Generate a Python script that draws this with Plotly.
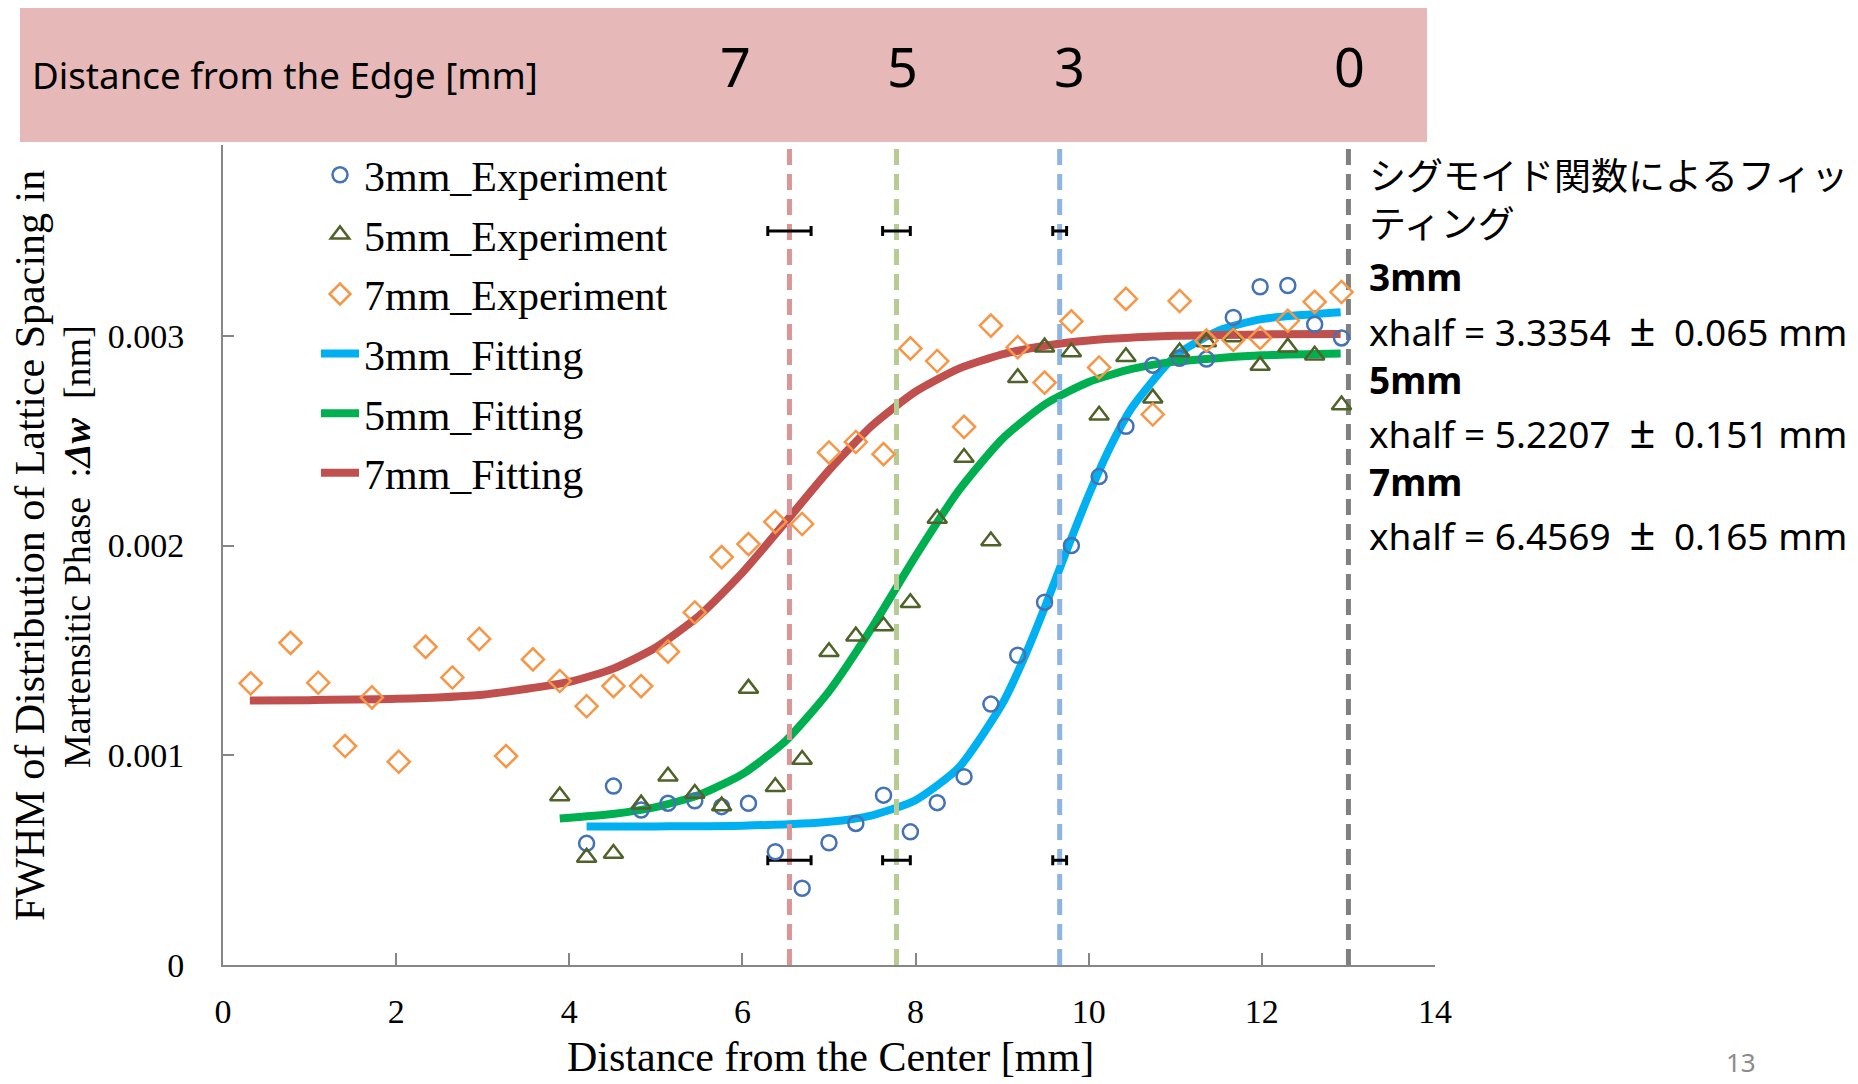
import plotly.graph_objects as go

# ---------------- data ----------------
# measurement positions (distance from the center, mm)
x_7mm = [0.32, 0.78, 1.10, 1.41, 1.72, 2.03, 2.34, 2.65, 2.96, 3.27, 3.58, 3.89, 4.20, 4.51,
         4.83, 5.14, 5.45, 5.76, 6.07, 6.38, 6.69, 7.00, 7.31, 7.63, 7.94, 8.25, 8.56, 8.87,
         9.18, 9.49, 9.80, 10.12, 10.43, 10.74, 11.05, 11.36, 11.67, 11.98, 12.30, 12.61, 12.92]
y_7mm = [0.001343, 0.001536, 0.001346, 0.001044, 0.001276, 0.000969, 0.001517, 0.001371,
         0.001555, 0.000996, 0.001457, 0.001354, 0.001234, 0.001330, 0.001330, 0.001494,
         0.001681, 0.001945, 0.002007, 0.002113, 0.002103, 0.002444, 0.002494, 0.002436,
         0.002940, 0.002880, 0.002566, 0.003049, 0.002946, 0.002777, 0.003069, 0.002849,
         0.003176, 0.002625, 0.003166, 0.002977, 0.002981, 0.002990, 0.003072, 0.003162,
         0.003209]

x_5mm = [3.89, 4.20, 4.51, 4.83, 5.14, 5.45, 5.76, 6.07, 6.38, 6.69, 7.00, 7.31, 7.63, 7.94,
         8.25, 8.56, 8.87, 9.18, 9.49, 9.80, 10.12, 10.43, 10.74, 11.05, 11.36, 11.67, 11.98,
         12.30, 12.61, 12.92]
y_5mm = [0.000806, 0.000513, 0.000532, 0.000767, 0.000900, 0.000818, 0.000758, 0.001319,
         0.000850, 0.000980, 0.001494, 0.001568, 0.001616, 0.001727, 0.002129, 0.002420,
         0.002022, 0.002800, 0.002946, 0.002923, 0.002621, 0.002900, 0.002703, 0.002923,
         0.002971, 0.002995, 0.002858, 0.002946, 0.002907, 0.002670]

x_3mm = [4.20, 4.51, 4.83, 5.14, 5.45, 5.76, 6.07, 6.38, 6.69, 7.00, 7.31, 7.63, 7.94, 8.25,
         8.56, 8.87, 9.18, 9.49, 9.80, 10.12, 10.43, 10.74, 11.05, 11.36, 11.67, 11.98, 12.30,
         12.61, 12.92]
y_3mm = [0.000580, 0.000853, 0.000739, 0.000771, 0.000783, 0.000755, 0.000771, 0.000540,
         0.000366, 0.000583, 0.000675, 0.000810, 0.000635, 0.000774, 0.000898, 0.001244,
         0.001477, 0.001730, 0.002000, 0.002329, 0.002569, 0.002860, 0.002893, 0.002889,
         0.003088, 0.003234, 0.003240, 0.003055, 0.002990]

# sigmoid fitting curves, sampled
fit_x_7mm = [0.31, 1.0, 2.0, 3.0, 4.0, 4.5, 5.0, 5.5, 6.0, 6.5, 7.0, 7.5, 8.0, 8.5, 9.0, 9.5,
             10.0, 11.0, 12.0, 12.91]
fit_y_7mm = [0.001261, 0.001263, 0.001269, 0.001289, 0.001350, 0.001412, 0.001514, 0.001665,
             0.001871, 0.002113, 0.002359, 0.002573, 0.002734, 0.002844, 0.002912, 0.002953,
             0.002978, 0.003000, 0.003007, 0.003009]

fit_x_5mm = [3.89, 4.5, 5.0, 5.5, 6.0, 6.5, 7.0, 7.5, 8.0, 8.5, 9.0, 9.5, 10.0, 10.5, 11.0,
             12.0, 12.91]
fit_y_5mm = [0.000699, 0.000720, 0.000753, 0.000811, 0.000910, 0.001069, 0.001305, 0.001611,
             0.001950, 0.002263, 0.002508, 0.002675, 0.002780, 0.002842, 0.002877, 0.002907,
             0.002916]

fit_x_3mm = [4.2, 5.0, 6.0, 7.0, 7.5, 8.0, 8.5, 9.0, 9.25, 9.5, 9.75, 10.0, 10.25, 10.5, 11.0,
             11.5, 12.0, 12.91]
fit_y_3mm = [0.000660, 0.000661, 0.000664, 0.000683, 0.000714, 0.000786, 0.000942, 0.001244,
             0.001461, 0.001713, 0.001982, 0.002241, 0.002471, 0.002658, 0.002904, 0.003025,
             0.003080, 0.003112]

# fitted half-transition positions (from the edge) and the edge position
widths = ["3mm", "5mm", "7mm"]
xhalf = [3.3354, 5.2207, 6.4569]
xhalf_err = [0.065, 0.151, 0.165]
edge_x = 13.0
bar_halfwidth = [0.08, 0.16, 0.25]
bar_levels = [0.0035, 0.0005]

edge_labels = ["7", "5", "3", "0"]

# ---------------- layout helpers ----------------
W, H = 1858, 1084
PL, PR, PT, PB = 223, 1435, 145, 965
Y_MAX = 0.00391


def fx(px):
    return (px - PL) / (PR - PL)


def fy(py):
    return (PB - py) / (PB - PT)


SERIF = "Liberation Serif, Times New Roman, serif"
SANS = "Noto Sans, Noto Sans CJK JP, sans-serif"

fig = go.Figure()

# fitting curves
fit_colors = {"3mm": "#00B0F0", "5mm": "#00B050", "7mm": "#C0504D"}
fits = {"3mm": (fit_x_3mm, fit_y_3mm), "5mm": (fit_x_5mm, fit_y_5mm), "7mm": (fit_x_7mm, fit_y_7mm)}
for rank, w in enumerate(widths):
    fxs, fys = fits[w]
    fig.add_trace(go.Scatter(
        x=fxs, y=fys, mode="lines", name=f"{w}_Fitting",
        line=dict(color=fit_colors[w], width=8, shape="spline", smoothing=0.6),
        legendgroup=f"fit{w}", legendrank=10 + rank))

# vertical dashed guides at the fitted half positions and at the edge
guide_colors = ["#8DB4E2", "#B7CC93", "#DA9694"]
for i, w in enumerate(widths):
    xpos = edge_x - xhalf[i]
    fig.add_trace(go.Scatter(
        x=[xpos, xpos], y=[0, Y_MAX], mode="lines", showlegend=False, hoverinfo="skip",
        line=dict(color=guide_colors[i], width=5, dash="16px,9px")))
fig.add_trace(go.Scatter(
    x=[edge_x, edge_x], y=[0, Y_MAX], mode="lines", showlegend=False, hoverinfo="skip",
    line=dict(color="#808080", width=5, dash="16px,9px")))

# horizontal error bars on the half positions
for i, w in enumerate(widths):
    xpos = edge_x - xhalf[i]
    fig.add_trace(go.Scatter(
        x=[xpos] * len(bar_levels), y=bar_levels, mode="markers", showlegend=False,
        hoverinfo="skip", marker=dict(size=1, color="rgba(0,0,0,0)"),
        error_x=dict(type="constant", value=bar_halfwidth[i], color="black",
                     thickness=3, width=5)))

# experimental points
fig.add_trace(go.Scatter(
    x=x_3mm, y=y_3mm, mode="markers", name="3mm_Experiment",
    marker=dict(symbol="circle-open", size=15, color="#4472B4", line=dict(width=2.5)),
    legendgroup="exp3", legendrank=1))
fig.add_trace(go.Scatter(
    x=x_5mm, y=y_5mm, mode="markers", name="5mm_Experiment",
    marker=dict(symbol="triangle-up-open", size=17, color="#4F6228", line=dict(width=2.5)),
    legendgroup="exp5", legendrank=2))
fig.add_trace(go.Scatter(
    x=x_7mm, y=y_7mm, mode="markers", name="7mm_Experiment",
    marker=dict(symbol="diamond-open", size=17, color="#F79646", line=dict(width=2.5)),
    legendgroup="exp7", legendrank=3))

annotations = []

# banner with the distance from the edge
shapes = [dict(type="rect", xref="paper", yref="paper", x0=fx(20), x1=fx(1427),
               y0=fy(142), y1=fy(8), fillcolor="#E6B9B8", line=dict(width=0), layer="below")]
annotations.append(dict(text="Distance from the Edge [mm]", xref="paper", yref="paper",
                        x=fx(30), y=fy(75), xanchor="left", yanchor="middle", showarrow=False,
                        font=dict(family=SANS, size=36.7, color="black")))
edge_label_px = [735, 902, 1069, 1349]
for lab, px in zip(edge_labels, edge_label_px):
    annotations.append(dict(text=lab, xref="paper", yref="paper", x=fx(px), y=fy(66),
                            xanchor="center", yanchor="middle", showarrow=False,
                            font=dict(family=SANS, size=54, color="black")))

# fitting summary on the right
SP = "\u2002"
PM = '<span style="font-size:46px">±</span>'
annotations.append(dict(text="シグモイド関数によるフィッ<br>ティング", xref="paper", yref="paper",
                        x=fx(1367), y=fy(200), xanchor="left", yanchor="middle", align="left",
                        showarrow=False, font=dict(family=SANS, size=37, color="black")))
line_y = [276, 328, 379, 430, 481, 532]
k = 0
side_lines = []
for i, w in enumerate(widths):
    side_lines.append((f"<b>{w}</b>", line_y[k]))
    side_lines.append((f"xhalf = {xhalf[i]:.4f}{SP}{PM}{SP}{xhalf_err[i]:.3f} mm", line_y[k + 1]))
    k += 2
for txt, py in side_lines:
    annotations.append(dict(text=txt, xref="paper", yref="paper",
                            x=fx(1367), y=fy(py), xanchor="left", yanchor="middle",
                            showarrow=False, font=dict(family=SANS, size=37, color="black")))

# axis titles
annotations.append(dict(
    text="FWHM of Distribution of Lattice Spacing in",
    xref="paper", yref="paper", x=fx(30), y=fy(546), xanchor="center", yanchor="middle",
    textangle=-90, showarrow=False, font=dict(family=SERIF, size=42, color="black")))
annotations.append(dict(
    text="Martensitic Phase  :<b><i>Δw</i></b>  [nm]",
    xref="paper", yref="paper", x=fx(77), y=fy(547), xanchor="center", yanchor="middle",
    textangle=-90, showarrow=False, font=dict(family=SERIF, size=38, color="black")))
annotations.append(dict(text="Distance from the Center [mm]", xref="paper", yref="paper",
                        x=fx(830), y=fy(1057), xanchor="center", yanchor="middle",
                        showarrow=False, font=dict(family=SERIF, size=42, color="black")))
annotations.append(dict(text="13", xref="paper", yref="paper", x=fx(1741), y=fy(1062),
                        xanchor="center", yanchor="middle", showarrow=False,
                        font=dict(family=SANS, size=26, color="#8C8C8C")))

fig.update_layout(
    width=W, height=H,
    margin=dict(l=PL, r=W - PR, t=PT, b=H - PB, pad=0),
    paper_bgcolor="white", plot_bgcolor="white",
    shapes=shapes, annotations=annotations,
    showlegend=True,
    legend=dict(x=fx(316), y=fy(141), xanchor="left", yanchor="top",
                bgcolor="rgba(0,0,0,0)", tracegroupgap=2, itemwidth=38,
                font=dict(family=SERIF, size=42, color="black"),
                itemsizing="trace"),
    xaxis=dict(range=[0, 14], tickvals=[0, 2, 4, 6, 8, 10, 12, 14],
               showgrid=False, zeroline=False, showline=True, linecolor="#868686", linewidth=2,
               ticks="inside", ticklen=12, tickwidth=1.5, tickcolor="#868686",
               ticklabelstandoff=15,
               tickfont=dict(family=SERIF, size=34, color="black")),
    yaxis=dict(range=[0, Y_MAX], tickvals=[0, 0.001, 0.002, 0.003],
               ticktext=["0", "0.001", "0.002", "0.003"],
               showgrid=False, zeroline=False, showline=True, linecolor="#868686", linewidth=2,
               ticks="inside", ticklen=11, tickwidth=1.5, tickcolor="#868686",
               ticklabelstandoff=30,
               tickfont=dict(family=SERIF, size=34, color="black")),
)

fig.write_html("out.html")
